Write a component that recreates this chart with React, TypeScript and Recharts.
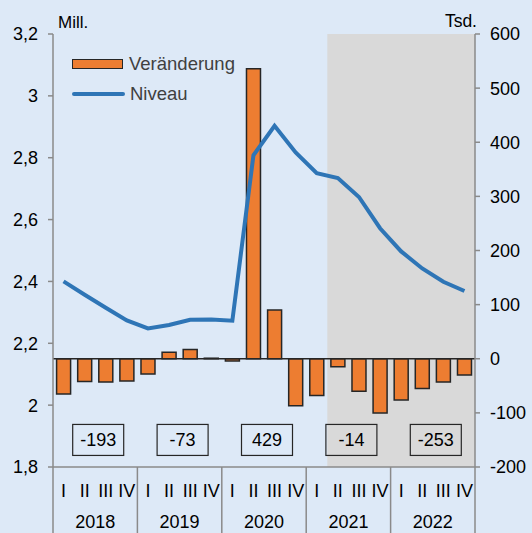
import React from "react"
import {
  ComposedChart,
  Bar,
  Line,
  XAxis,
  YAxis,
  ReferenceArea,
  ReferenceLine,
  ReferenceDot,
  Legend,
} from "recharts"

// quarters and years on the x axis
const years = ["2018", "2019", "2020", "2021", "2022"]
const quarters = ["I", "II", "III", "IV"]

// change vs previous quarter, Tsd. (right axis)
const change = [-65, -42, -43, -41, -28, 12, 17, 1, -4, 536, 90, -87, -68, -15, -60, -100, -76, -55, -43, -30]

// level, Mill. (left axis)
const level = [2.4, 2.357, 2.315, 2.274, 2.248, 2.259, 2.276, 2.277, 2.273, 2.808, 2.903, 2.817, 2.75, 2.734, 2.673, 2.572, 2.497, 2.442, 2.399, 2.369]

// yearly totals shown in the boxes
const yearTotals = [-193, -73, 429, -14, -253]

const leftTicks = [1.8, 2, 2.2, 2.4, 2.6, 2.8, 3, 3.2]
const rightTicks = [-200, -100, 0, 100, 200, 300, 400, 500, 600]

const shadeFrom = "2021 II"

const data = years.flatMap((year, yi) =>
  quarters.map((q, qi) => ({
    key: `${year} ${q}`,
    year,
    change: change[yi * 4 + qi],
    level: level[yi * 4 + qi],
  }))
)

const W = 532
const H = 533
const LEFT = 53
const RIGHT = 475
const AXIS_Y = 467
const BAND = (RIGHT - LEFT) / data.length
const BOX_Y = -150

const FONT = "'Liberation Sans', Arial, sans-serif"
const NARROW = "'Liberation Sans Narrow', 'Arial Narrow', 'Liberation Sans', Arial, sans-serif"
const BG = "#dde9f7"
const GRID = "#8a8a8a"
const ORANGE = "#ed7d31"
const BLUE = "#2e75b6"
const DARK = "#262626"

const QuarterTick = (props: any) => {
  const { x, payload, index } = props
  const q = String(payload.value).split(" ")[1]
  return (
    <g>
      <text x={x} y={497} textAnchor="middle" fontSize={18} fill="#000" fontFamily={NARROW}>
        {q}
      </text>
      {index % 4 === 0 && (
        <line x1={x - BAND / 2} x2={x - BAND / 2} y1={AXIS_Y} y2={H} stroke={GRID} strokeWidth={1.5} />
      )}
      {index === data.length - 1 && (
        <line x1={x + BAND / 2} x2={x + BAND / 2} y1={AXIS_Y} y2={H} stroke={GRID} strokeWidth={1.5} />
      )}
    </g>
  )
}

const YearTick = (props: any) => {
  const { x, payload } = props
  return (
    <text x={x} y={528} textAnchor="middle" fontSize={18} fill="#000" fontFamily={NARROW}>
      {payload.value}
    </text>
  )
}

const TotalBox = (value: number) => (props: any) => {
  const { cx, cy } = props
  const bx = cx + 3
  return (
    <g>
      <rect x={bx - 25.5} y={cy - 15.5} width={51} height={31} fill="none" stroke={DARK} strokeWidth={1.2} />
      <text x={bx} y={cy + 6.5} textAnchor="middle" fontSize={18} fill="#000" fontFamily={FONT}>
        {value}
      </text>
    </g>
  )
}

const LegendBox = () => (
  <div style={{ fontFamily: FONT, fontSize: 18.5, color: "#404040", lineHeight: "30px" }}>
    <div style={{ display: "flex", alignItems: "center" }}>
      <span style={{ width: 49, height: 8, background: ORANGE, border: `1.5px solid ${DARK}`, marginRight: 6 }} />
      <span>Veränderung</span>
    </div>
    <div style={{ display: "flex", alignItems: "center" }}>
      <span style={{ width: 53, height: 4, background: BLUE, borderRadius: 2, marginRight: 5 }} />
      <span>Niveau</span>
    </div>
  </div>
)

export default function App() {
  return (
    <div style={{ position: "absolute", left: 0, top: 0, width: W, height: H, background: BG, overflow: "hidden" }}>
      <svg width={W} height={40} style={{ position: "absolute", left: 0, top: 0 }}>
        <text x={58} y={28} fontSize={17} fontFamily={FONT} fill="#000">
          Mill.
        </text>
        <text x={477} y={27} fontSize={17.5} fontFamily={FONT} fill="#000" textAnchor="end">
          Tsd.
        </text>
      </svg>
      <ComposedChart
        width={W}
        height={H}
        data={data}
        margin={{ top: 34, right: 0, bottom: 0, left: 0 }}
        barCategoryGap="17%"
        style={{ position: "absolute", left: 0, top: 0 }}
      >
        <XAxis
          dataKey="key"
          height={40}
          interval={0}
          tickLine={false}
          axisLine={{ stroke: GRID, strokeWidth: 1.5 }}
          tick={<QuarterTick />}
        />
        <XAxis
          xAxisId="year"
          dataKey="year"
          allowDuplicatedCategory={false}
          height={26}
          interval={0}
          tickLine={false}
          axisLine={false}
          tick={<YearTick />}
        />
        <YAxis
          yAxisId="left"
          width={53}
          domain={[1.8, 3.2]}
          ticks={leftTicks}
          interval={0}
          tickSize={5}
          tickMargin={10}
          axisLine={{ stroke: GRID, strokeWidth: 1.5 }}
          tickLine={{ stroke: GRID, strokeWidth: 1.5 }}
          tick={{ fontSize: 18, fill: "#000", fontFamily: FONT }}
          tickFormatter={(v: number) => String(v).replace(".", ",")}
        />
        <YAxis
          yAxisId="right"
          orientation="right"
          width={57}
          domain={[-200, 600]}
          ticks={rightTicks}
          interval={0}
          tickSize={5}
          tickMargin={10}
          axisLine={{ stroke: GRID, strokeWidth: 1.5 }}
          tickLine={{ stroke: GRID, strokeWidth: 1.5 }}
          tick={{ fontSize: 18, fill: "#000", fontFamily: FONT }}
        />
        <ReferenceArea yAxisId="left" x1={shadeFrom} fill="#d9d9d9" fillOpacity={1} stroke="none" ifOverflow="extendDomain" />
        <Bar yAxisId="right" dataKey="change" fill={ORANGE} stroke={DARK} strokeWidth={1.5} isAnimationActive={false} />
        <ReferenceLine yAxisId="right" y={0} stroke={DARK} strokeWidth={1.5} />
        <Line
          yAxisId="left"
          type="linear"
          dataKey="level"
          stroke={BLUE}
          strokeWidth={4}
          dot={false}
          isAnimationActive={false}
        />
        {years.map((y, i) => (
          <ReferenceDot
            key={y}
            xAxisId="year"
            yAxisId="right"
            x={y}
            y={BOX_Y}
            r={0}
            shape={TotalBox(yearTotals[i])}
          />
        ))}
        <Legend
          layout="horizontal"
          verticalAlign="middle"
          align="center"
          content={<LegendBox />}
          wrapperStyle={{ position: "absolute", left: 72, top: 49, width: 200 }}
        />
      </ComposedChart>
    </div>
  )
}
